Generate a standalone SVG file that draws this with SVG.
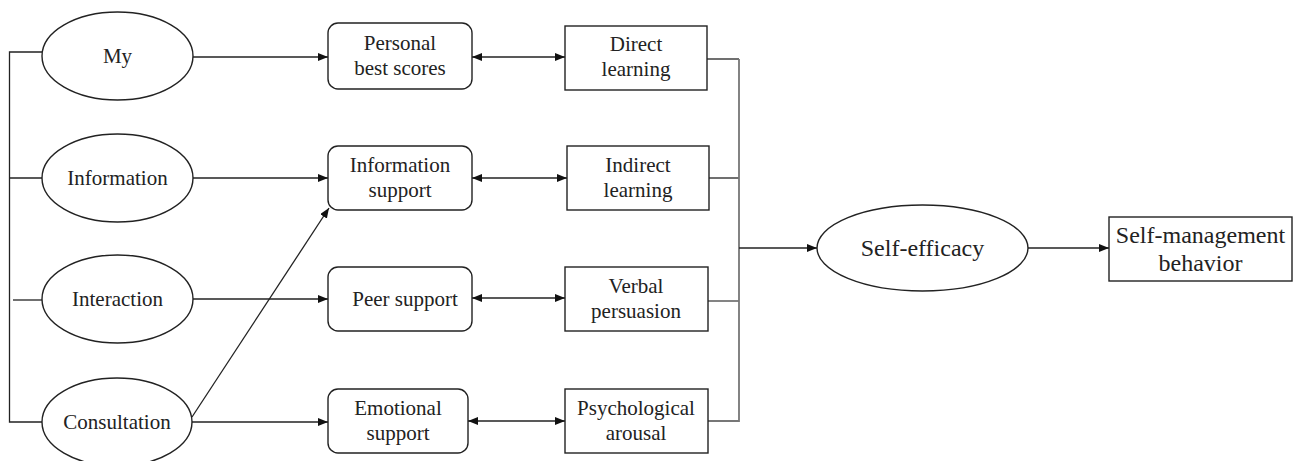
<svg xmlns="http://www.w3.org/2000/svg" width="1296" height="461" viewBox="0 0 1296 461">
<defs>
<marker id="ah" viewBox="0 0 10 8" refX="10" refY="4" markerWidth="10" markerHeight="8" markerUnits="userSpaceOnUse" orient="auto-start-reverse">
<path d="M0,0 L10,4 L0,8 Z" fill="#111"/>
</marker>
<style>
.shape{fill:#fff;stroke:#222;stroke-width:1.4}
.t{font-family:'Liberation Serif','DejaVu Serif',serif;font-size:21px;fill:#222;text-anchor:middle}
.tl{font-family:'Liberation Serif','DejaVu Serif',serif;font-size:24px;fill:#222;text-anchor:middle}
.c{fill:none;stroke:#222;stroke-width:1.3}
.g{fill:none;stroke:#777;stroke-width:1.8}
</style>
</defs>
<rect width="1296" height="461" fill="#fff"/>
<g id="connectors">
<path class="c" d="M42,52 H9.5 V422 H42"/>
<path class="c" d="M9.5,178 H42"/>
<path class="c" d="M13,300 H42"/>
<path class="c" d="M193,57 H328" marker-end="url(#ah)"/>
<path class="c" d="M193,178 H328" marker-end="url(#ah)"/>
<path class="c" d="M193,299 H328" marker-end="url(#ah)"/>
<path class="c" d="M192,422 H328" marker-end="url(#ah)"/>
<path class="c" d="M192,417 L329,208" marker-end="url(#ah)"/>
<path class="c" d="M472,57 H565" marker-start="url(#ah)" marker-end="url(#ah)"/>
<path class="c" d="M472,178 H567" marker-start="url(#ah)" marker-end="url(#ah)"/>
<path class="c" d="M472,298 H565" marker-start="url(#ah)" marker-end="url(#ah)"/>
<path class="c" d="M468,421 H565" marker-start="url(#ah)" marker-end="url(#ah)"/>
<path class="c" d="M707,59 H739"/>
<path class="c" d="M709,178 H739"/>
<path class="g" d="M708,301 H739"/>
<path class="g" d="M708,421 H739 V59"/>
<path class="c" d="M739,248 H817" marker-end="url(#ah)"/>
<path class="c" d="M1028,248 H1109" marker-end="url(#ah)"/>
</g>
<g id="my"><ellipse class="shape" cx="117.5" cy="56" rx="75.5" ry="44"/><text class="t" x="117.5" y="63" font-family="Liberation Serif">My</text></g>
<g id="information"><ellipse class="shape" cx="117.5" cy="178" rx="75.5" ry="44"/><text class="t" x="117.5" y="185">Information</text></g>
<g id="interaction"><ellipse class="shape" cx="117.5" cy="299" rx="75.5" ry="44"/><text class="t" x="117.5" y="306">Interaction</text></g>
<g id="consultation"><ellipse class="shape" cx="117" cy="422" rx="75" ry="44"/><text class="t" x="117" y="429">Consultation</text></g>
<g id="personal-best"><rect class="shape" x="328" y="23" width="144" height="66" rx="10"/><text class="t" x="400" y="50">Personal</text><text class="t" x="400" y="75">best scores</text></g>
<g id="information-support"><rect class="shape" x="328" y="146" width="144" height="64" rx="10"/><text class="t" x="400" y="172">Information</text><text class="t" x="400" y="197">support</text></g>
<g id="peer-support"><rect class="shape" x="328" y="267" width="144" height="64" rx="10"/><text class="t" x="405" y="306">Peer support</text></g>
<g id="emotional-support"><rect class="shape" x="328" y="389" width="140" height="64" rx="10"/><text class="t" x="398" y="415">Emotional</text><text class="t" x="398" y="440">support</text></g>
<g id="direct-learning"><rect class="shape" x="565" y="26" width="142" height="64"/><text class="t" x="636" y="51">Direct</text><text class="t" x="636" y="76">learning</text></g>
<g id="indirect-learning"><rect class="shape" x="567" y="146" width="142" height="64"/><text class="t" x="638" y="172">Indirect</text><text class="t" x="638" y="197">learning</text></g>
<g id="verbal-persuasion"><rect class="shape" x="565" y="267" width="143" height="64"/><text class="t" x="636" y="293">Verbal</text><text class="t" x="636" y="318">persuasion</text></g>
<g id="psychological-arousal"><rect class="shape" x="565" y="389" width="143" height="64"/><text class="t" x="636" y="415">Psychological</text><text class="t" x="636" y="440">arousal</text></g>
<g id="self-efficacy"><ellipse class="shape" cx="922.5" cy="248" rx="105.5" ry="43"/><text class="tl" x="922.5" y="256">Self-efficacy</text></g>
<g id="self-management"><rect class="shape" x="1109" y="217" width="183" height="64"/><text class="tl" x="1200.5" y="243">Self-management</text><text class="tl" x="1200.5" y="271">behavior</text></g>
</svg>
